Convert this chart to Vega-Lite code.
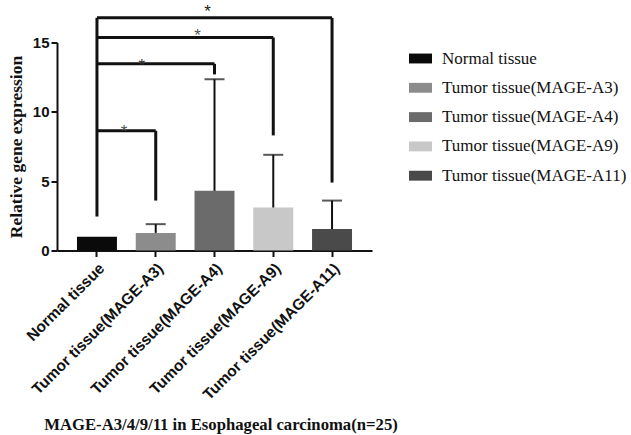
{
  "$schema": "https://vega.github.io/schema/vega-lite/v6.json",
  "width": 315,
  "height": 208,
  "autosize": {"type": "none"},
  "padding": {"left": 57, "top": 42.5, "right": 259, "bottom": 184.5},
  "background": "white",
  "datasets": {
    "bars": [
      {"group": "Normal tissue", "mean": 1.0, "upper": 1.0},
      {"group": "Tumor tissue(MAGE-A3)", "mean": 1.27, "upper": 1.9},
      {"group": "Tumor tissue(MAGE-A4)", "mean": 4.3, "upper": 12.35},
      {"group": "Tumor tissue(MAGE-A9)", "mean": 3.1, "upper": 6.9},
      {"group": "Tumor tissue(MAGE-A11)", "mean": 1.55, "upper": 3.6}
    ],
    "brackets": [
      {"from": "Normal tissue", "to": "Tumor tissue(MAGE-A3)", "level": 8.63},
      {"from": "Normal tissue", "to": "Tumor tissue(MAGE-A4)", "level": 13.46},
      {"from": "Normal tissue", "to": "Tumor tissue(MAGE-A9)", "level": 15.36},
      {"from": "Normal tissue", "to": "Tumor tissue(MAGE-A11)", "level": 16.78}
    ],
    "legs": [
      {"group": "Normal tissue", "top": 16.78, "bottom": 2.45},
      {"group": "Tumor tissue(MAGE-A3)", "top": 8.63, "bottom": 3.6},
      {"group": "Tumor tissue(MAGE-A4)", "top": 13.46, "bottom": 12.7},
      {"group": "Tumor tissue(MAGE-A9)", "top": 15.36, "bottom": 8.3},
      {"group": "Tumor tissue(MAGE-A11)", "top": 16.78, "bottom": 4.9}
    ],
    "stars": [
      {"pair": "A11", "anchor": "Tumor tissue(MAGE-A4)", "level": 17.55, "label": "*"},
      {"pair": "A9", "anchor": "Tumor tissue(MAGE-A4)", "level": 15.84, "label": "*"},
      {"pair": "A4", "anchor": "Tumor tissue(MAGE-A3)", "level": 13.68, "label": "*"},
      {"pair": "A3", "anchor": "Normal tissue", "level": 8.94, "label": "*"}
    ]
  },
  "config": {
    "view": {"stroke": null},
    "axis": {"grid": false}
  },
  "encoding": {
    "x": {
      "field": "group",
      "type": "nominal",
      "sort": null,
      "scale": {
        "domain": ["Normal tissue", "Tumor tissue(MAGE-A3)", "Tumor tissue(MAGE-A4)", "Tumor tissue(MAGE-A9)", "Tumor tissue(MAGE-A11)"],
        "paddingInner": 0.32,
        "paddingOuter": 0.34
      },
      "axis": {
        "title": "MAGE-A3/4/9/11 in Esophageal carcinoma(n=25)",
        "titleFont": "Liberation Serif",
        "titleFontSize": 16.7,
        "titleFontWeight": "bold",
        "titleColor": "#111",
        "titlePadding": 14,
        "titleX": 163.5,
        "labelAngle": -45,
        "labelFont": "Liberation Sans",
        "labelFontSize": 15.5,
        "labelFontWeight": "bold",
        "labelColor": "#111",
        "labelPadding": 4,
        "labelLimit": 400,
        "domainColor": "#111",
        "domainWidth": 2,
        "tickColor": "#111",
        "tickWidth": 2,
        "tickSize": 6
      }
    }
  },
  "layer": [
    {
      "data": {"name": "bars"},
      "mark": {"type": "bar"},
      "encoding": {
        "y": {
          "field": "mean",
          "type": "quantitative",
          "scale": {"domain": [0, 15], "nice": false},
          "axis": {
            "title": "Relative gene expression",
            "titleFont": "Liberation Serif",
            "titleFontSize": 17.5,
            "titleFontWeight": "bold",
            "titleColor": "#111",
            "titlePadding": 7,
            "values": [0, 5, 10, 15],
            "labelFont": "Liberation Sans",
            "labelFontSize": 15,
            "labelFontWeight": "bold",
            "labelColor": "#111",
            "labelPadding": 2,
            "domainColor": "#111",
            "domainWidth": 2,
            "tickColor": "#111",
            "tickWidth": 2,
            "tickSize": 6
          }
        },
        "color": {
          "field": "group",
          "type": "nominal",
          "scale": {
            "domain": ["Normal tissue", "Tumor tissue(MAGE-A3)", "Tumor tissue(MAGE-A4)", "Tumor tissue(MAGE-A9)", "Tumor tissue(MAGE-A11)"],
            "range": ["#0a0a0a", "#8c8c8c", "#6b6b6b", "#c8c8c8", "#4a4a4a"]
          },
          "legend": {
            "title": null,
            "orient": "none",
            "legendX": 352,
            "legendY": 4.5,
            "padding": 0,
            "symbolType": "M-1,-0.43H1V0.43H-1Z",
            "symbolSize": 529,
            "symbolStrokeWidth": 0,
            "symbolOpacity": 1,
            "labelFont": "Liberation Serif",
            "labelFontSize": 17,
            "labelColor": "#111",
            "labelOffset": 10,
            "labelLimit": 300,
            "rowPadding": 9.3
          }
        }
      }
    },
    {
      "data": {"name": "bars"},
      "transform": [{"filter": "datum.upper > datum.mean"}],
      "mark": {"type": "rule", "strokeWidth": 2, "color": "#111"},
      "encoding": {
        "y": {"field": "mean", "type": "quantitative"},
        "y2": {"field": "upper"}
      }
    },
    {
      "data": {"name": "bars"},
      "transform": [{"filter": "datum.upper > datum.mean"}],
      "mark": {"type": "tick", "orient": "horizontal", "size": 20, "thickness": 2, "color": "#111"},
      "encoding": {
        "y": {"field": "upper", "type": "quantitative"}
      }
    },
    {
      "data": {"name": "brackets"},
      "mark": {"type": "rule", "strokeWidth": 3, "color": "#111"},
      "encoding": {
        "x": {"field": "from", "type": "nominal"},
        "x2": {"field": "to"},
        "y": {"field": "level", "type": "quantitative"}
      }
    },
    {
      "data": {"name": "legs"},
      "mark": {"type": "rule", "strokeWidth": 3, "color": "#111"},
      "encoding": {
        "y": {"field": "bottom", "type": "quantitative"},
        "y2": {"field": "top"}
      }
    },
    {
      "data": {"name": "stars"},
      "transform": [{"filter": "datum.pair == 'A11'"}],
      "mark": {"type": "text", "font": "Liberation Sans", "fontSize": 17, "color": "#222", "baseline": "middle", "dx": -7, "dy": 5},
      "encoding": {
        "x": {"field": "anchor", "type": "nominal"},
        "y": {"field": "level", "type": "quantitative"},
        "text": {"field": "label"}
      }
    },
    {
      "data": {"name": "stars"},
      "transform": [{"filter": "datum.pair == 'A9'"}],
      "mark": {"type": "text", "font": "Liberation Sans", "fontSize": 17, "color": "#555", "baseline": "middle", "dx": -17, "dy": 5},
      "encoding": {
        "x": {"field": "anchor", "type": "nominal"},
        "y": {"field": "level", "type": "quantitative"},
        "text": {"field": "label"}
      }
    },
    {
      "data": {"name": "stars"},
      "transform": [{"filter": "datum.pair == 'A4'"}],
      "mark": {"type": "text", "font": "Liberation Sans", "fontSize": 17, "color": "#333", "baseline": "middle", "dx": -14, "dy": 5},
      "encoding": {
        "x": {"field": "anchor", "type": "nominal"},
        "y": {"field": "level", "type": "quantitative"},
        "text": {"field": "label"}
      }
    },
    {
      "data": {"name": "stars"},
      "transform": [{"filter": "datum.pair == 'A3'"}],
      "mark": {"type": "text", "font": "Liberation Sans", "fontSize": 17, "color": "#555", "baseline": "middle", "dx": 27, "dy": 5},
      "encoding": {
        "x": {"field": "anchor", "type": "nominal"},
        "y": {"field": "level", "type": "quantitative"},
        "text": {"field": "label"}
      }
    }
  ]
}
